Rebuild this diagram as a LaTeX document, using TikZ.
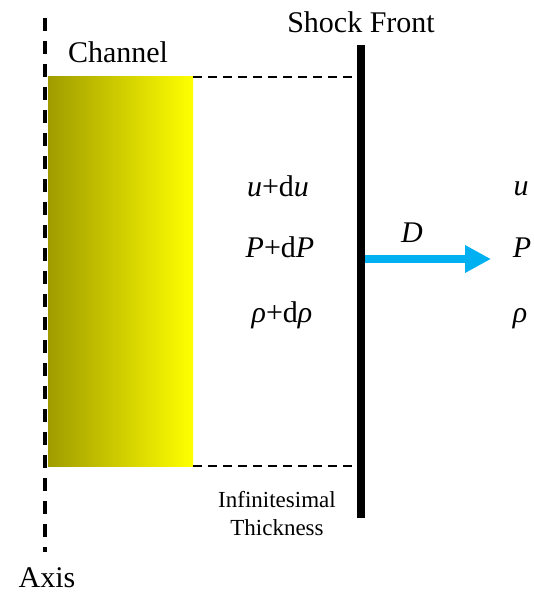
\documentclass[tikz,border=0pt]{standalone}
\usepackage{fontspec}
\setmainfont{Liberation Serif}
\usepackage{xcolor}
\usetikzlibrary{positioning, arrows.meta}

\definecolor{chdark}{RGB}{160,156,0}
\definecolor{chlight}{RGB}{255,255,0}
\definecolor{flowblue}{RGB}{0,176,240}

\begin{document}
\begin{tikzpicture}[
    x=1pt, y=-1pt,
    lbl/.style={inner sep=0pt, anchor=base, font=\fontsize{30}{36}\selectfont},
    smalllbl/.style={inner sep=0pt, anchor=north, align=center, font=\fontsize{23}{28}\selectfont},
    channelbox/.style={inner sep=0pt, minimum width=145pt, minimum height=389pt, left color=chdark, right color=chlight},
    frontbar/.style={inner sep=0pt, fill=black, minimum width=8pt, minimum height=473pt},
    axisline/.style={line width=4pt, dash pattern=on 13pt off 10pt},
    guide/.style={line width=2.5pt, dash pattern=on 9pt off 6pt},
    flowarr/.style={-{Triangle[length=26pt, width=26pt]}, flowblue, line width=8pt}
]
\useasboundingbox (0,0) rectangle (533,593);

% ---- Axis (dashed, left) ----
\coordinate (axtop) at (45, 18);
\coordinate (axbot) at (45, 552);
\draw[axisline] (axtop) -- (axbot);
\node[lbl] (axislbl) at (47, 587) {Axis};

% ---- Channel ----
\node[channelbox] (channel) at (120.5, 271.5) {};
\node[lbl] (channellbl) at (118, 63) {Channel};

% ---- Shock front ----
\node[frontbar] (shock) at (361, 281.5) {};
\node[lbl] (shocklbl) at (361, 33) {Shock Front};

% ---- Dashed guides, channel to front ----
\draw[guide] (channel.north east) -- ([xshift=-4pt]shock.west |- channel.north east);
\draw[guide] (channel.south east) -- ([xshift=-4pt]shock.west |- channel.south east);
\node[smalllbl] (thick) at (277, 491) {Infinitesimal\\Thickness};

% ---- States behind the front ----
\node[lbl] (ubehind)   at (278, 197) {\textit{u}+d\textit{u}};
\node[lbl] (pbehind)   at (280, 258) {\textit{P}+d\textit{P}};
\node[lbl] (rhobehind) at (282, 322) {\textit{ρ}+d\textit{ρ}};

% ---- States ahead of the front ----
\node[lbl] (uahead)   at (521, 196) {\textit{u}};
\node[lbl] (pahead)   at (522, 258) {\textit{P}};
\node[lbl] (rhoahead) at (520, 322) {\textit{ρ}};

% ---- Front velocity ----
\coordinate (dtip) at (491, 259);
\draw[flowarr] (shock.east |- dtip) -- (dtip);
\node[lbl] (dlbl) at (412, 243) {\textit{D}};

\end{tikzpicture}
\end{document}
